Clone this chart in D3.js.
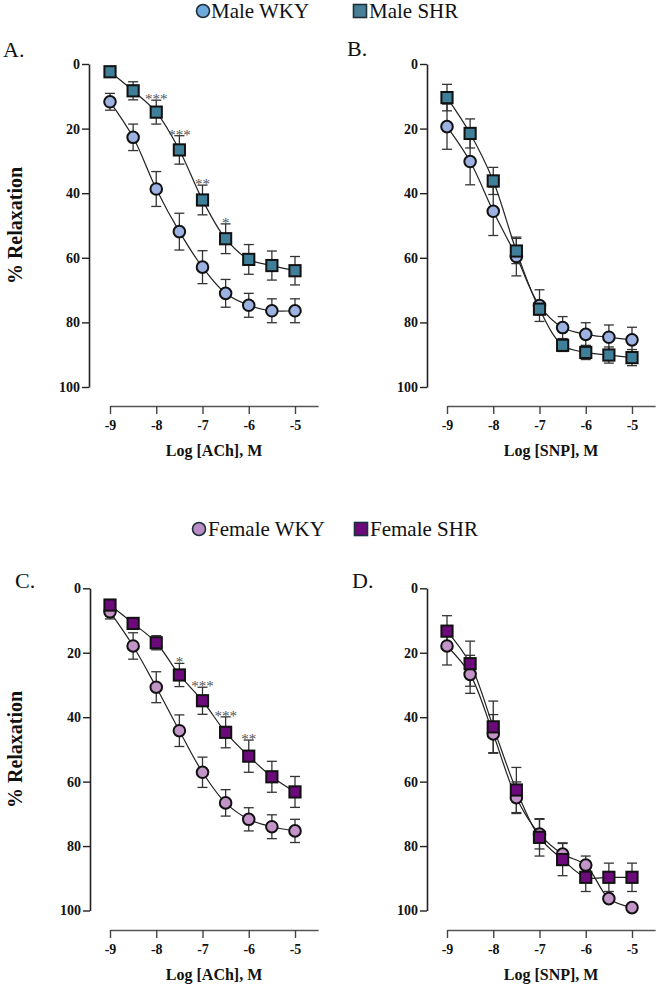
<!DOCTYPE html>
<html>
<head>
<meta charset="utf-8">
<script src="https://cdn.jsdelivr.net/npm/d3@7/dist/d3.min.js"></script>
<style>
  html, body { margin: 0; padding: 0; background: #fff; }
  svg { display: block; }
</style>
</head>
<body>
<svg id="chart" width="658" height="984"></svg>
<script>
// ---------- DATA ----------
const logConc = [-9, -8.5, -8, -7.5, -7, -6.5, -6, -5.5, -5];
const xTicks = [-9, -8, -7, -6, -5];
const yTicks = [0, 20, 40, 60, 80, 100];

// Panel A: ACh, male
const maleWkyACh    = [11.7, 22.7, 38.7, 51.9, 62.9, 71.0, 74.7, 76.4, 76.4];
const maleWkyAChErr = [2.6, 4.1, 5.4, 5.7, 5.1, 4.3, 3.7, 3.7, 3.7];
const maleShrACh    = [2.4, 8.3, 14.9, 26.6, 42.1, 54.1, 60.5, 62.4, 64.0];
const maleShrAChErr = [0.5, 2.8, 3.7, 4.4, 4.6, 4.6, 4.6, 4.5, 4.4];
const maleAChStars  = ["", "", "***", "***", "**", "*", "", "", ""];

// Panel B: SNP, male
const maleWkySNP    = [19.4, 30.2, 45.6, 59.6, 74.8, 81.6, 83.7, 84.6, 85.4];
const maleWkySNPErr = [7.0, 7.2, 7.5, 6.0, 4.9, 3.4, 3.6, 3.8, 3.9];
const maleShrSNP    = [10.4, 21.5, 36.2, 57.9, 75.9, 87.1, 89.3, 90.1, 90.9];
const maleShrSNPErr = [4.1, 4.5, 4.2, 3.9, 1.8, 1.9, 2.2, 2.5, 2.5];

// Panel C: ACh, female
const femWkyACh    = [7.3, 17.9, 30.7, 44.2, 57.1, 66.6, 71.7, 74.0, 75.3];
const femWkyAChErr = [2.2, 4.1, 4.8, 4.9, 4.7, 4.1, 3.6, 3.7, 3.6];
const femShrACh    = [5.2, 10.9, 16.9, 26.9, 34.9, 44.7, 52.1, 58.5, 63.2];
const femShrAChErr = [1.0, 1.0, 2.2, 3.6, 4.2, 4.8, 5.0, 4.8, 4.8];
const femAChStars  = ["", "", "", "*", "***", "***", "**", "", ""];

// Panel D: SNP, female
const femWkySNP    = [17.9, 26.7, 45.2, 65.0, 76.3, 82.5, 85.9, 96.3, 99.1];
const femWkySNPErr = [5.9, 5.9, 6.0, 4.9, 4.6, 3.5, 2.8, 0.8, 0.8];
const femShrSNP    = [13.3, 23.4, 43.0, 62.6, 77.3, 84.2, 89.7, 89.7, 89.7];
const femShrSNPErr = [4.8, 7.0, 8.0, 7.0, 5.8, 5.0, 4.4, 4.4, 4.4];

const legendMale   = ["Male WKY", "Male SHR"];
const legendFemale = ["Female WKY", "Female SHR"];
const panelLetters = ["A.", "B.", "C.", "D."];
const xTitles = ["Log [ACh], M", "Log [SNP], M", "Log [ACh], M", "Log [SNP], M"];
const yTitle = "% Relaxation";

// ---------- STYLE ----------
const FONT = "'Liberation Serif', 'Times New Roman', serif";
const col = {
  maleWky: "#9db2e0", maleShr: "#3f7f99",
  femWky: "#c394c8", femShr: "#6c0a7c",
  legMaleWky: "#6fa8dc", legMaleShr: "#4a7f98",
  legFemWky: "#bb8cc4", legFemShr: "#6c0a7c"
};

const svg = d3.select("#chart").attr("font-family", FONT);

const panels = [
  { letter: panelLetters[0], lx: 3,   ly: 57,  x0: 110, yAxisX: 89,  yTop: 64,    yBot: 387,   xAxisY: 406, xTitle: xTitles[0],
    series: [
      { v: maleWkyACh, e: maleWkyAChErr, shape: "circle", fill: col.maleWky },
      { v: maleShrACh, e: maleShrAChErr, shape: "square", fill: col.maleShr, stars: maleAChStars }
    ]},
  { letter: panelLetters[1], lx: 347, ly: 56,  x0: 447, yAxisX: 427, yTop: 64,    yBot: 387,   xAxisY: 406, xTitle: xTitles[1],
    series: [
      { v: maleWkySNP, e: maleWkySNPErr, shape: "circle", fill: col.maleWky },
      { v: maleShrSNP, e: maleShrSNPErr, shape: "square", fill: col.maleShr }
    ]},
  { letter: panelLetters[2], lx: 15,  ly: 588, x0: 110, yAxisX: 90,  yTop: 588.3, yBot: 910.5, xAxisY: 930, xTitle: xTitles[2],
    series: [
      { v: femWkyACh, e: femWkyAChErr, shape: "circle", fill: col.femWky },
      { v: femShrACh, e: femShrAChErr, shape: "square", fill: col.femShr, stars: femAChStars }
    ]},
  { letter: panelLetters[3], lx: 352, ly: 588, x0: 447, yAxisX: 427, yTop: 588.3, yBot: 910.5, xAxisY: 930, xTitle: xTitles[3],
    series: [
      { v: femWkySNP, e: femWkySNPErr, shape: "circle", fill: col.femWky },
      { v: femShrSNP, e: femShrSNPErr, shape: "square", fill: col.femShr }
    ]}
];

const step = 46.25;

panels.forEach(p => {
  const g = svg.append("g");
  const x = d3.scaleLinear().domain([-9, -4.5]).range([p.x0, p.x0 + 4.5 * step]);
  const y = d3.scaleLinear().domain([0, 100]).range([p.yTop, p.yBot]);

  g.append("text").attr("x", p.lx).attr("y", p.ly).attr("font-family", FONT)
    .attr("font-size", 22).attr("fill", "#111").text(p.letter);

  const ya = g.append("g").attr("transform", `translate(${p.yAxisX},0)`)
    .call(d3.axisLeft(y).tickValues(yTicks).tickSize(7).tickSizeOuter(0).tickPadding(2)
      .tickFormat(d => String(d)));
  ya.attr("font-family", FONT);
  ya.select(".domain").attr("stroke", "#222").attr("stroke-width", 1.6);
  ya.selectAll(".tick line").attr("stroke", "#222").attr("stroke-width", 1.4);
  ya.selectAll(".tick text").attr("font-family", FONT)
    .attr("font-weight", "bold").attr("font-size", 14).attr("fill", "#111");

  const xa = g.append("g").attr("transform", `translate(0,${p.xAxisY})`)
    .call(d3.axisBottom(x).tickValues(xTicks).tickSize(8).tickSizeOuter(0).tickPadding(6)
      .tickFormat(d => String(d)));
  xa.attr("font-family", FONT);
  xa.select(".domain").attr("stroke", "#555").attr("stroke-width", 1.6);
  xa.selectAll(".tick line").attr("stroke", "#444").attr("stroke-width", 1.4);
  xa.selectAll(".tick text").attr("font-family", FONT)
    .attr("font-weight", "bold").attr("font-size", 14).attr("fill", "#111");

  g.append("text").attr("x", x(-6.75)).attr("y", p.xAxisY + 50).attr("font-family", FONT)
    .attr("text-anchor", "middle").attr("font-weight", "bold").attr("font-size", 16)
    .attr("fill", "#111").text(p.xTitle);

  if (p.x0 === 110) {
    const cy = (p.yTop + p.yBot) / 2;
    g.append("text").attr("transform", `translate(22,${cy}) rotate(-90)`).attr("font-family", FONT)
      .attr("text-anchor", "middle").attr("font-weight", "bold").attr("font-size", 20)
      .attr("fill", "#111").text(yTitle);
  }

  const line = d3.line().x(d => x(d[0])).y(d => y(d[1])).curve(d3.curveCatmullRom.alpha(0.5));

  p.series.forEach(s => {
    const pts = logConc.map((c, i) => [c, s.v[i]]);
    g.append("path").attr("d", line(pts)).attr("fill", "none")
      .attr("stroke", "#222").attr("stroke-width", 1.2);
  });

  p.series.forEach(s => {
    logConc.forEach((c, i) => {
      const cx = x(c), y1 = y(s.v[i] - s.e[i]), y2 = y(s.v[i] + s.e[i]);
      const eb = g.append("g").attr("stroke", "#333").attr("stroke-width", 1.3);
      eb.append("line").attr("x1", cx).attr("x2", cx).attr("y1", y1).attr("y2", y2);
      eb.append("line").attr("x1", cx - 5).attr("x2", cx + 5).attr("y1", y1).attr("y2", y1);
      eb.append("line").attr("x1", cx - 5).attr("x2", cx + 5).attr("y1", y2).attr("y2", y2);
    });
  });

  p.series.forEach(s => {
    logConc.forEach((c, i) => {
      const cx = x(c), cy = y(s.v[i]);
      if (s.shape === "circle") {
        g.append("circle").attr("cx", cx).attr("cy", cy).attr("r", 5.8)
          .attr("fill", s.fill).attr("stroke", "#111").attr("stroke-width", 2);
      } else {
        g.append("rect").attr("x", cx - 5.6).attr("y", cy - 5.6).attr("width", 11.2).attr("height", 11.2)
          .attr("fill", s.fill).attr("stroke", "#111").attr("stroke-width", 2);
      }
    });
    if (s.stars) {
      logConc.forEach((c, i) => {
        if (!s.stars[i]) return;
        g.append("text").attr("x", x(c)).attr("y", y(s.v[i] - s.e[i]) + 4).attr("font-family", FONT)
          .attr("text-anchor", "middle").attr("font-size", 15)
          .attr("fill", "#555").text(s.stars[i]);
      });
    }
  });
});

// ---------- LEGENDS ----------
function legend(yc, items) {
  const g = svg.append("g");
  items.forEach(it => {
    if (it.shape === "circle") {
      g.append("circle").attr("cx", it.mx).attr("cy", yc).attr("r", 6.5)
        .attr("fill", it.fill).attr("stroke", "#1d2f3a").attr("stroke-width", 1.6);
    } else {
      g.append("rect").attr("x", it.mx - 6.5).attr("y", yc - 6.5).attr("width", 13).attr("height", 13)
        .attr("fill", it.fill).attr("stroke", "#1d2f3a").attr("stroke-width", 1.6);
    }
    g.append("text").attr("x", it.tx).attr("y", yc + 6.5).attr("font-size", 21).attr("font-family", FONT)
      .attr("fill", "#111").text(it.label);
  });
}
legend(11, [
  { shape: "circle", mx: 203, tx: 211, fill: col.legMaleWky, label: legendMale[0] },
  { shape: "square", mx: 360, tx: 369, fill: col.legMaleShr, label: legendMale[1] }
]);
legend(529, [
  { shape: "circle", mx: 199, tx: 208, fill: col.legFemWky, label: legendFemale[0] },
  { shape: "square", mx: 361, tx: 370, fill: col.legFemShr, label: legendFemale[1] }
]);
</script>
</body>
</html>
